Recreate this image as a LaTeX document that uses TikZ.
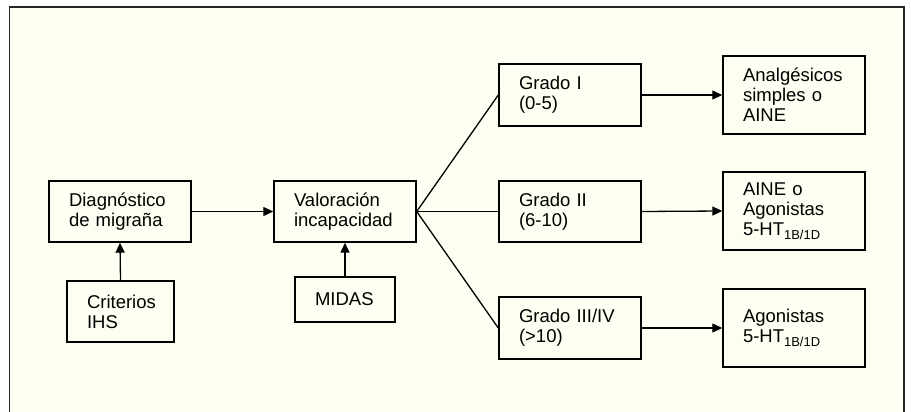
\documentclass[tikz,border=0pt]{standalone}
\usepackage{fontspec}
\setmainfont{Liberation Sans}
\usetikzlibrary{arrows.meta}
\definecolor{cream}{RGB}{254,254,242}
\tikzset{
  box/.style={draw, line width=1.4pt, fill=cream, inner xsep=20pt, inner ysep=0pt,
    align=left, font=\fontsize{18.5}{20}\selectfont},
  arr/.style={line width=1.3pt, -{Triangle[length=10pt,width=9pt]}},
  link/.style={line width=1.3pt}
}

\begin{document}
\begin{tikzpicture}[x=1pt,y=-1pt]
        \useasboundingbox (0,0) rectangle (911,412);
        % frame around the whole chart
        \fill[cream] (9.5,7) rectangle (904,412);
        \draw[line width=1.8pt, black!85] (9.5,412) -- (9.5,7) -- (904,7) -- (904,412);
        % first column
        \node[box, text width=102pt, minimum height=61pt] (diag) at (120,211.5) {Diagnóstico\\de migraña};
        \node[box, text width=67pt, minimum height=61pt] (crit) at (120.5,311.5) {Criterios\\IHS};
        % second column
        \node[box, text width=102pt, minimum height=61pt] (val) at (345,211.5) {Valoración\\incapacidad};
        \node[box, text width=60pt, minimum height=45pt] (midas) at (345,299.5) {MIDAS};
        % grades
        \node[box, text width=102pt, minimum height=62pt] (g1) at (570,95) {Grado I\\(0-5)};
        \node[box, text width=102pt, minimum height=61pt] (g2) at (570,211.5) {Grado II\\(6-10)};
        \node[box, text width=102pt, minimum height=62pt] (g3) at (570,328) {Grado III/IV\\(>10)};
        % treatments
        \node[box, text width=102pt, minimum height=78pt] (t1) at (794,95) {Analgésicos\\simples o\\AINE};
        \node[box, text width=102pt, minimum height=78pt] (t2) at (794,211) {AINE o\\Agonistas\\5-HT\textsubscript{1B/1D}};
        \node[box, text width=102pt, minimum height=78pt] (t3) at (794,328) {Agonistas\\5-HT\textsubscript{1B/1D}};
        % arrows into the first two boxes
        \draw[arr] (crit.north) -- (diag.south);
        \draw[arr] (diag.east) -- (val.west);
        \draw[arr] (midas.north) -- (val.south);
        % branches to the grades
        \draw[link] (g1.west) -- (val.east) -- (g3.west);
        \draw[link] (val.east) -- (g2.west);
        % grade to treatment
        \draw[arr] (g1.east) -- (t1.west);
        \draw[arr] (g2.east) -- (t2.west);
        \draw[arr] (g3.east) -- (t3.west);
\end{tikzpicture}
\end{document}
